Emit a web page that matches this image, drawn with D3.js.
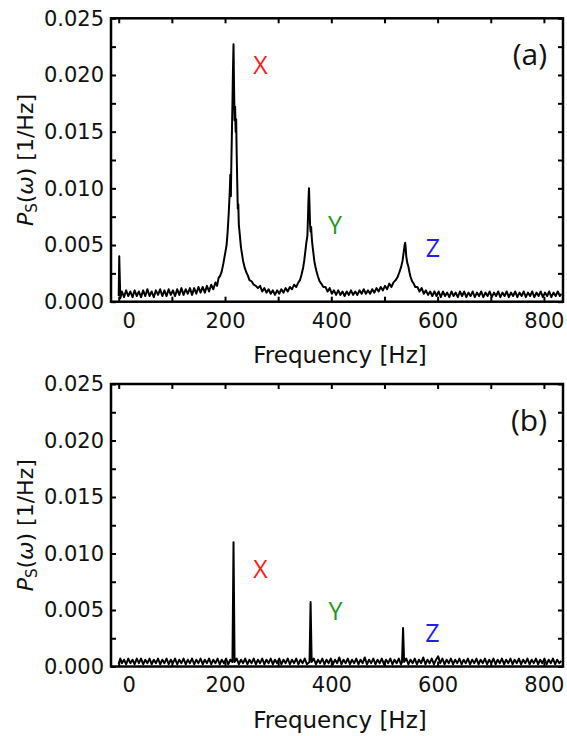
<!DOCTYPE html>
<html><head><meta charset="utf-8">
<script src="https://cdn.jsdelivr.net/npm/d3@7"></script>
<style>
html,body{margin:0;padding:0;background:#fff;}
svg{display:block;}
</style></head>
<body>
<svg id="chart" width="567" height="736"></svg>
<script>
// ---- data ----
const xTicks = [0,100,200,300,400,500,600,700,800];
const xTickLabels = [0,200,400,600,800];
const yTicks = [0,0.0025,0.005,0.0075,0.01,0.0125,0.015,0.0175,0.02,0.0225,0.025];
const yTickLabels = [0,0.005,0.01,0.015,0.02,0.025];

// panel (a): frequency [Hz] and spectral density [1/Hz], rows of 10
const freqA = [
  0,1,3,6,10,14,18,22,26,30,
  34,38,42,46,50,54,58,62,66,70,
  74,78,82,86,90,94,98,102,106,110,
  114,118,122,126,130,134,138,142,146,150,
  154,158,162,166,170,174,178,182,185,188,
  191,194,197,200,203,205,207,209,210,211,
  212,213,214,215,216,217,218,219,220,221,
  222,223,224,225,226,228,230,232,234,237,
  240,243,246,250,254,258,262,266,270,274,
  278,282,286,290,294,298,302,306,310,314,
  318,322,326,330,334,338,341,344,347,349,
  351,353,355,356,357,358,359,360,361,362,
  363,364,366,368,370,372,375,378,381,385,
  389,393,397,401,405,409,413,417,421,425,
  429,433,437,441,445,449,453,457,461,465,
  469,473,477,481,485,489,493,497,501,505,
  509,513,517,521,525,528,531,534,536,538,
  539,540,541,543,545,547,549,552,555,558,
  562,566,570,574,578,582,586,590,594,598,
  602,606,610,614,618,622,626,630,634,638,
  642,646,650,654,658,662,666,670,674,678,
  682,686,690,694,698,702,706,710,714,718,
  722,726,730,734,738,742,746,750,754,758,
  762,766,770,774,778,782,786,790,794,798,
  802,806,810,814,818,822,826,830,833
];
const psA = [
  .0005,.0040,.0003,.0009,.0004,.0010,.0005,.0009,.0004,.0010,
  .0005,.0009,.0004,.0010,.0005,.0011,.0005,.0009,.0004,.0010,
  .0006,.0011,.0005,.0010,.0005,.0011,.0006,.0010,.0005,.0011,
  .0006,.0012,.0006,.0011,.0007,.0012,.0006,.0012,.0007,.0013,
  .0008,.0013,.0008,.0014,.0009,.0015,.0011,.0017,.0014,.0021,
  .0023,.0027,.0034,.0042,.0050,.0062,.0078,.0098,.0112,.0093,
  .0125,.0150,.0175,.0205,.0227,.0190,.0160,.0172,.0150,.0161,
  .0130,.0105,.0082,.0086,.0068,.0058,.0048,.0042,.0036,.0030,
  .0026,.0023,.0019,.0018,.0015,.0014,.0012,.0014,.0009,.0012,
  .0008,.0011,.0007,.0010,.0006,.0010,.0007,.0011,.0008,.0012,
  .0009,.0013,.0011,.0015,.0013,.0017,.0019,.0024,.0030,.0036,
  .0044,.0052,.0058,.0073,.0090,.0100,.0085,.0068,.0062,.0066,
  .0058,.0052,.0044,.0036,.0031,.0027,.0022,.0018,.0016,.0013,
  .0013,.0009,.0012,.0007,.0010,.0006,.0010,.0006,.0009,.0005,
  .0009,.0006,.0010,.0006,.0009,.0006,.0010,.0007,.0011,.0007,
  .0010,.0007,.0011,.0008,.0012,.0009,.0013,.0010,.0014,.0011,
  .0016,.0013,.0017,.0019,.0022,.0026,.0030,.0036,.0043,.0050,
  .0052,.0047,.0040,.0034,.0031,.0026,.0022,.0018,.0016,.0013,
  .0013,.0009,.0012,.0007,.0010,.0006,.0009,.0005,.0009,.0005,
  .0009,.0004,.0009,.0005,.0008,.0004,.0009,.0005,.0008,.0004,
  .0009,.0005,.0009,.0004,.0008,.0005,.0009,.0004,.0008,.0005,
  .0009,.0004,.0008,.0005,.0009,.0004,.0008,.0005,.0009,.0004,
  .0008,.0005,.0009,.0004,.0008,.0005,.0009,.0004,.0008,.0005,
  .0009,.0004,.0008,.0005,.0009,.0004,.0008,.0005,.0009,.0004,
  .0008,.0005,.0009,.0004,.0008,.0005,.0009,.0005,.0007
];

// panel (b)
const freqB = [
  0,3,6,10,14,18,22,26,30,34,
  38,42,46,50,54,58,62,66,70,74,
  78,82,86,90,94,98,102,106,110,114,
  118,122,126,130,134,138,142,146,150,154,
  158,162,166,170,174,178,182,186,190,194,
  198,202,206,210,214,216,218,222,226,230,
  234,238,242,246,250,254,258,262,266,270,
  274,278,282,286,290,294,298,302,306,310,
  314,318,322,326,330,334,338,342,346,350,
  354,359,361,363,367,371,375,379,383,387,
  391,395,399,403,407,411,415,419,423,427,
  431,435,439,443,447,451,455,459,463,467,
  471,475,479,483,487,491,495,499,503,507,
  511,515,519,523,527,531,533,535,537,541,
  545,549,553,557,561,565,569,573,577,581,
  585,589,593,597,601,605,609,613,617,621,
  625,629,633,637,641,645,649,653,657,661,
  665,669,673,677,681,685,689,693,697,701,
  705,709,713,717,721,725,729,733,737,741,
  745,749,753,757,761,765,769,773,777,781,
  785,789,793,797,801,805,809,813,817,821,
  825,829,833
];
const psB = [
  .0002,.0007,.0003,.0006,.0002,.0007,.0003,.0006,.0002,.0007,
  .0003,.0007,.0002,.0006,.0003,.0007,.0002,.0006,.0003,.0007,
  .0002,.0006,.0003,.0007,.0002,.0006,.0003,.0007,.0002,.0006,
  .0003,.0007,.0002,.0006,.0003,.0007,.0002,.0006,.0003,.0007,
  .0002,.0006,.0003,.0007,.0002,.0006,.0003,.0007,.0002,.0006,
  .0003,.0007,.0002,.0006,.0004,.0110,.0004,.0007,.0002,.0006,
  .0003,.0007,.0002,.0006,.0003,.0007,.0002,.0006,.0003,.0007,
  .0002,.0006,.0003,.0007,.0002,.0006,.0003,.0007,.0002,.0006,
  .0003,.0007,.0002,.0006,.0003,.0007,.0002,.0006,.0003,.0007,
  .0002,.0004,.0057,.0004,.0007,.0002,.0006,.0003,.0007,.0002,
  .0006,.0003,.0007,.0002,.0006,.0003,.0008,.0002,.0006,.0003,
  .0007,.0002,.0006,.0003,.0007,.0002,.0006,.0003,.0008,.0002,
  .0006,.0003,.0007,.0002,.0006,.0003,.0007,.0002,.0006,.0003,
  .0007,.0002,.0006,.0003,.0007,.0002,.0004,.0034,.0004,.0007,
  .0002,.0006,.0003,.0007,.0002,.0006,.0003,.0008,.0002,.0006,
  .0003,.0007,.0002,.0006,.0009,.0003,.0007,.0002,.0006,.0003,
  .0007,.0002,.0006,.0003,.0007,.0002,.0006,.0003,.0007,.0002,
  .0006,.0003,.0007,.0002,.0006,.0003,.0007,.0002,.0006,.0003,
  .0007,.0002,.0006,.0003,.0007,.0002,.0006,.0003,.0007,.0002,
  .0006,.0003,.0007,.0002,.0006,.0003,.0007,.0002,.0006,.0003,
  .0007,.0002,.0006,.0003,.0007,.0002,.0006,.0003,.0007,.0002,
  .0006,.0003,.0005
];

const peakLabels = ["X","Y","Z"];
const peakColors = ["#ff1a1a","#1f9a1f","#2020ee"];
const peakPosA = [[260.5,64],[335,224],[433,247]];
const peakPosB = [[260.5,567.5],[335.5,610],[432.5,632]];

const panels = [
  {name:"(a)", freq:freqA, ps:psA, top:18.3, bottom:301.7, labelPos:peakPosA},
  {name:"(b)", freq:freqB, ps:psB, top:384, bottom:666.5, labelPos:peakPosB}
];

const svg = d3.select("#chart");
const left = 111, right = 563;
const FONT = "'DejaVu Sans', sans-serif";

panels.forEach(p => {
  const x = d3.scaleLinear().domain([-14.5, 835.9]).range([left, right]);
  const y = d3.scaleLinear().domain([0, 0.025]).range([p.bottom, p.top]);
  const g = svg.append("g");

  const clipId = "clip" + p.name.replace(/\W/g,"");
  svg.append("clipPath").attr("id", clipId).append("rect")
    .attr("x", left).attr("y", p.top).attr("width", right-left).attr("height", p.bottom-p.top);

  const pts = d3.zip(p.freq, p.ps);
  const line = d3.line().x(d=>x(d[0])).y(d=>y(d[1]));
  g.append("path").datum(pts)
    .attr("clip-path", `url(#${clipId})`)
    .attr("d", line).attr("fill","none").attr("stroke","#000")
    .attr("stroke-width", 2).attr("stroke-linejoin","round");

  const fmtX = d => xTickLabels.includes(d) ? String(d) : "";
  const fmtY = d => yTickLabels.some(v=>Math.abs(v-d)<1e-9) ? d3.format(".3f")(d) : "";

  const ax = (axis, tr) => {
    const a = g.append("g").attr("transform", tr).call(axis);
    a.select(".domain").remove();
    a.selectAll(".tick line").attr("stroke","#000").attr("stroke-width",2);
    a.selectAll("text").attr("font-family",FONT).attr("font-size",21).attr("fill","#111");
    return a;
  };
  const bx = ax(d3.axisBottom(x).tickValues(xTicks).tickSizeInner(-5).tickSizeOuter(0).tickPadding(11).tickFormat(fmtX), `translate(0,${p.bottom})`);
  bx.selectAll(".tick text").filter(d=>d===0).attr("dx", 10);
  ax(d3.axisTop(x).tickValues(xTicks).tickSizeInner(-5).tickSizeOuter(0).tickFormat(""), `translate(0,${p.top})`);
  ax(d3.axisLeft(y).tickValues(yTicks).tickSizeInner(-5).tickSizeOuter(0).tickPadding(7).tickFormat(fmtY), `translate(${left},0)`);
  ax(d3.axisRight(y).tickValues(yTicks).tickSizeInner(-5).tickSizeOuter(0).tickFormat(""), `translate(${right},0)`);

  g.append("rect").attr("x", left).attr("y", p.top).attr("width", right-left).attr("height", p.bottom-p.top)
    .attr("fill","none").attr("stroke","#000").attr("stroke-width",2.5);

  g.append("text").attr("x", 340).attr("y", p.bottom + 61.3).attr("text-anchor","middle")
    .attr("font-family",FONT).attr("font-size",23).attr("fill","#111").text("Frequency [Hz]");

  const cy = (p.top + p.bottom)/2;
  const yt = g.append("text").attr("transform", `translate(32.5,${cy}) rotate(-90)`).attr("text-anchor","middle")
    .attr("font-family",FONT).attr("font-size",22).attr("fill","#111");
  yt.append("tspan").attr("font-style","italic").text("P");
  yt.append("tspan").attr("font-size",15).attr("dy",4).text("S");
  yt.append("tspan").attr("dy",-4).text("(");
  yt.append("tspan").attr("font-style","italic").text("ω");
  yt.append("tspan").text(") [1/Hz]");

  g.append("text").attr("x", 547).attr("y", p.top + 47).attr("text-anchor","end")
    .attr("font-family","'Open Sans', sans-serif").attr("font-size",30).attr("fill","#111").text(p.name);

  peakLabels.forEach((t,i)=>{
    g.append("text").attr("x", p.labelPos[i][0]).attr("y", p.labelPos[i][1]).attr("text-anchor","middle")
      .attr("dominant-baseline","central").attr("font-family","'Open Sans', sans-serif").attr("font-size",25)
      .attr("fill", peakColors[i]).text(t);
  });
});
</script>
</body></html>
